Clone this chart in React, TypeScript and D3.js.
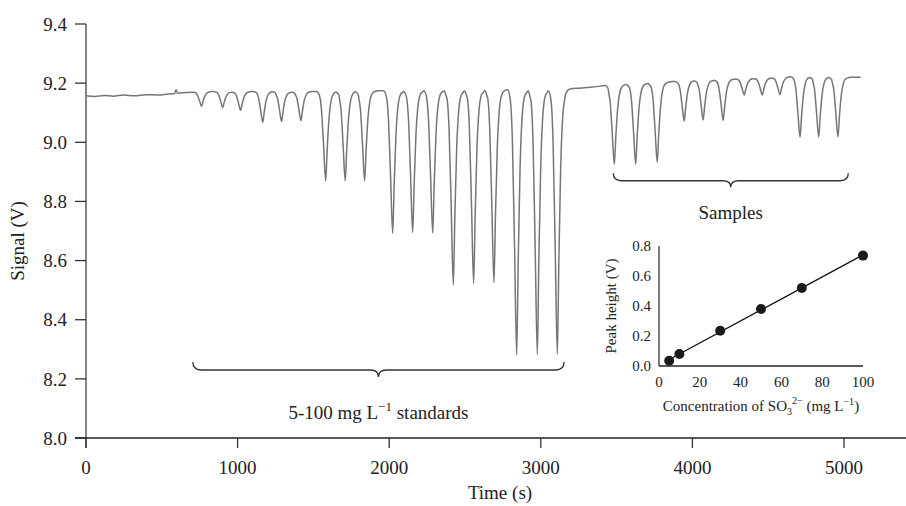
import React from 'react';
import * as d3 from 'd3';

// ---------- data ----------
const X_TICKS = [0, 1000, 2000, 3000, 4000, 5000];
const Y_TICKS = [8.0, 8.2, 8.4, 8.6, 8.8, 9.0, 9.2, 9.4];

// baseline of the recorded signal (time s, volts)
const BASE_T = [0, 60, 120, 180, 250, 320, 400, 470, 540, 585, 594, 603, 660, 720, 830, 960, 1100, 1230, 1350, 1500, 1650, 1780, 1930, 2090, 2220, 2360, 2490, 2620, 2770, 2910, 3040, 3160, 3250, 3330, 3420, 3450, 3560, 3700, 3860, 4000, 4140, 4270, 4400, 4520, 4640, 4780, 4900, 5030, 5110];
const BASE_V = [9.157, 9.155, 9.158, 9.156, 9.160, 9.157, 9.161, 9.160, 9.163, 9.165, 9.178, 9.166, 9.168, 9.170, 9.172, 9.170, 9.172, 9.172, 9.170, 9.172, 9.172, 9.173, 9.174, 9.174, 9.176, 9.175, 9.176, 9.177, 9.178, 9.177, 9.178, 9.180, 9.183, 9.186, 9.192, 9.194, 9.196, 9.199, 9.205, 9.209, 9.210, 9.214, 9.216, 9.218, 9.222, 9.222, 9.221, 9.220, 9.220];

// injection peaks (time of minimum, minimum signal)
const PEAK_T = [762, 902, 1020, 1166, 1290, 1418, 1581, 1710, 1838, 2023, 2155, 2287, 2423, 2557, 2691, 2841, 2977, 3109,
  3485, 3626, 3768, 3946, 4071, 4203, 4342, 4461, 4578, 4710, 4833, 4960];
const PEAK_MIN = [9.122, 9.118, 9.108, 9.067, 9.070, 9.073, 8.870, 8.869, 8.870, 8.692, 8.695, 8.693, 8.517, 8.523, 8.525, 8.281, 8.282, 8.283,
  8.926, 8.926, 8.933, 9.072, 9.075, 9.074, 9.160, 9.160, 9.161, 9.017, 9.018, 9.018];

// peak profile (offset from minimum in s, fraction of depth)
const SHAPE_DT = [-60, -42, -28, -14, 0, 10, 22, 36, 52, 72, 90];
const SHAPE_F = [0, 0.04, 0.2, 0.6, 1, 0.65, 0.3, 0.1, 0.025, 0.004, 0];

// inset calibration
const CONC = [5, 10, 30, 50, 70, 100];
const PEAK_HEIGHT = [0.035, 0.08, 0.235, 0.38, 0.52, 0.736];
const INSET_X_TICKS = [0, 20, 40, 60, 80, 100];
const INSET_Y_TICKS = [0, 0.2, 0.4, 0.6, 0.8];

// bracket spans (time s, signal V)
const STD_SPAN = [705, 3153];
const STD_LEVELS = [8.257, 8.23, 8.206];
const SMP_SPAN = [3478, 5028];
const SMP_LEVELS = [8.895, 8.87, 8.848];

const FONT = '"Liberation Serif", "DejaVu Serif", serif';

function brace(x0: number, x1: number, yTop: number, yMid: number, yTip: number, r: number) {
  const xc = (x0 + x1) / 2;
  return `M${x0},${yTop} Q${x0},${yMid} ${x0 + r},${yMid} L${xc - r},${yMid} Q${xc},${yMid} ${xc},${yTip} Q${xc},${yMid} ${xc + r},${yMid} L${x1 - r},${yMid} Q${x1},${yMid} ${x1},${yTop}`;
}

export default function App() {
  const W = 906, H = 506;
  const x = d3.scaleLinear().domain([0, 5000]).range([86, 844]);
  const y = d3.scaleLinear().domain([8.0, 9.4]).range([438, 24]);

  const base = d3.scaleLinear().domain(BASE_T).range(BASE_V).clamp(true);
  const shape = d3.scaleLinear().domain(SHAPE_DT).range(SHAPE_F).clamp(true);
  const depths = PEAK_T.map((t, i) => base(t) - PEAK_MIN[i]);
  const times = Array.from(new Set([...BASE_T, ...PEAK_T.flatMap(t => SHAPE_DT.map(d => t + d))])).sort((a, b) => a - b);
  const trace: [number, number][] = times.map(t => [t, base(t) - d3.sum(PEAK_T, (p, i) => depths[i] * shape(t - p))]);
  const line = d3.line<[number, number]>().x(d => x(d[0])).y(d => y(d[1])).curve(d3.curveMonotoneX);

  // inset
  const ix = d3.scaleLinear().domain([0, 100]).range([659, 863]);
  const iy = d3.scaleLinear().domain([0, 0.8]).range([366, 246]);
  const mx = d3.mean(CONC)!, my = d3.mean(PEAK_HEIGHT)!;
  const slope = d3.sum(CONC, (c, i) => (c - mx) * (PEAK_HEIGHT[i] - my)) / d3.sum(CONC, c => (c - mx) ** 2);
  const icpt = my - slope * mx;
  const fitX = [CONC[0], CONC[CONC.length - 1]];

  const textColor = '#222';

  return (
    <svg width={W} height={H} style={{ position: 'absolute', left: 0, top: 0, background: '#fff' }} fontFamily={FONT}>
      {/* main y axis */}
      <line x1={x(0)} x2={x(0)} y1={y(9.4)} y2={y(8.0) + 10} stroke="#666" strokeWidth={1.6} />
      {Y_TICKS.map(v => (
        <g key={v}>
          <line x1={x(0) - 11} x2={x(0)} y1={y(v)} y2={y(v)} stroke="#333" strokeWidth={1.3} />
          <text x={x(0) - 19} y={y(v)} dy="0.35em" textAnchor="end" fontSize={19} fill={textColor}>{v.toFixed(1)}</text>
        </g>
      ))}
      {/* main x axis */}
      <line x1={x(0) - 11} x2={W} y1={y(8.0)} y2={y(8.0)} stroke="#222" strokeWidth={1.4} />
      {X_TICKS.map(v => (
        <g key={v}>
          <line x1={x(v)} x2={x(v)} y1={y(8.0)} y2={y(8.0) + 10} stroke="#333" strokeWidth={1.3} />
          <text x={x(v)} y={474} textAnchor="middle" fontSize={19} fill={textColor}>{v}</text>
        </g>
      ))}
      <text x={500} y={499} textAnchor="middle" fontSize={19} fill={textColor}>Time (s)</text>
      <text transform={`translate(24,${(y(9.4) + y(8.0)) / 2 + 10}) rotate(-90)`} textAnchor="middle" fontSize={19} fill={textColor}>Signal (V)</text>

      {/* trace */}
      <path d={line(trace) || ''} fill="none" stroke="#767676" strokeWidth={1.5} />

      {/* brackets */}
      <path d={brace(x(STD_SPAN[0]), x(STD_SPAN[1]), y(STD_LEVELS[0]), y(STD_LEVELS[1]), y(STD_LEVELS[2]), 8)} fill="none" stroke="#333" strokeWidth={1.3} />
      <text x={(x(STD_SPAN[0]) + x(STD_SPAN[1])) / 2} y={419} textAnchor="middle" fontSize={19} fill={textColor}>
        5-100 mg L<tspan dy={-8} fontSize={13}>−1</tspan><tspan dy={8}> standards</tspan>
      </text>
      <path d={brace(x(SMP_SPAN[0]), x(SMP_SPAN[1]), y(SMP_LEVELS[0]), y(SMP_LEVELS[1]), y(SMP_LEVELS[2]), 8)} fill="none" stroke="#333" strokeWidth={1.3} />
      <text x={(x(SMP_SPAN[0]) + x(SMP_SPAN[1])) / 2} y={219} textAnchor="middle" fontSize={19} fill={textColor}>Samples</text>

      {/* inset */}
      <line x1={ix(0)} x2={ix(0)} y1={iy(0.8)} y2={iy(0)} stroke="#333" strokeWidth={1.3} />
      <line x1={ix(0)} x2={ix(100)} y1={iy(0)} y2={iy(0)} stroke="#222" strokeWidth={1.3} />
      {INSET_Y_TICKS.map(v => (
        <text key={v} x={ix(0) - 8} y={iy(v)} dy="0.35em" textAnchor="end" fontSize={15} fill={textColor}>{v.toFixed(1)}</text>
      ))}
      {INSET_X_TICKS.map(v => (
        <text key={v} x={ix(v)} y={387} textAnchor="middle" fontSize={15} fill={textColor}>{v}</text>
      ))}
      <text transform={`translate(${616},${(iy(0) + iy(0.8)) / 2}) rotate(-90)`} textAnchor="middle" fontSize={15} fill={textColor}>Peak height (V)</text>
      <text x={(ix(0) + ix(100)) / 2} y={411} textAnchor="middle" fontSize={15} fill={textColor}>
        Concentration of SO<tspan dy={4} fontSize={10}>3</tspan><tspan dy={-11} fontSize={10}>2−</tspan><tspan dy={7}> (mg L</tspan><tspan dy={-6} fontSize={10}>−1</tspan><tspan dy={6}>)</tspan>
      </text>
      <line x1={ix(fitX[0])} x2={ix(fitX[1])} y1={iy(icpt + slope * fitX[0])} y2={iy(icpt + slope * fitX[1])} stroke="#111" strokeWidth={1.3} />
      {CONC.map((c, i) => (
        <circle key={c} cx={ix(c)} cy={iy(PEAK_HEIGHT[i])} r={5} fill="#1a1a1a" />
      ))}
    </svg>
  );
}
